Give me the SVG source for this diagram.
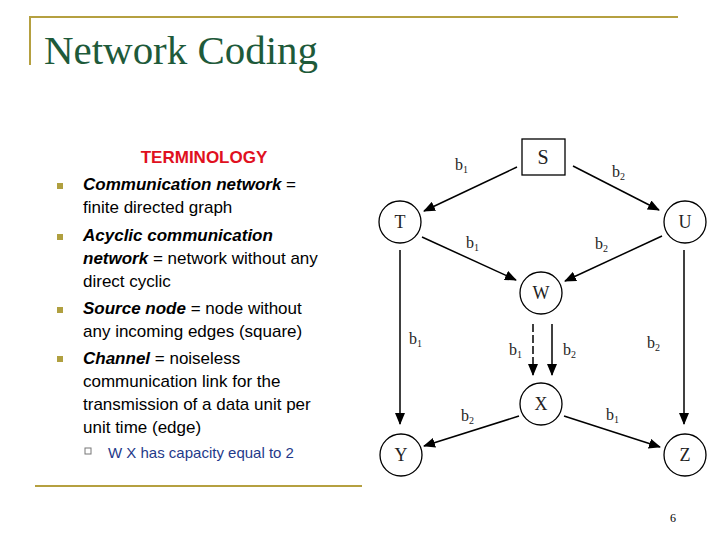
<svg xmlns="http://www.w3.org/2000/svg" width="720" height="540" viewBox="0 0 720 540">
<style>
.t{font-family:"Liberation Sans",Arial,sans-serif;font-size:17px;fill:#000}
.i{font-style:italic;font-weight:bold}
.n{fill:#fff;stroke:#000;stroke-width:1.3}
.nl{font-family:"Liberation Serif","Times New Roman",serif;font-size:18px;text-anchor:middle;fill:#222}
.e{stroke:#000;stroke-width:1.5;fill:none;marker-end:url(#a)}
.b{font-family:"Liberation Serif","Times New Roman",serif;font-size:16px;fill:#222}
.s{font-size:10px}
</style>
<defs><marker id="a" markerWidth="12" markerHeight="10" refX="11" refY="5" orient="auto" markerUnits="userSpaceOnUse"><path d="M0,0L12,5L0,10z" fill="#000"/></marker></defs>
<rect width="720" height="540" fill="#fff"/>
<path d="M30,65V17H678" stroke="#b5a040" stroke-width="2" fill="none"/>
<line x1="35" y1="486" x2="362" y2="486" stroke="#b5a040" stroke-width="2"/>
<text x="44" y="64" font-family="Liberation Serif,serif" font-size="40" fill="#1e5a3a" textLength="274" lengthAdjust="spacingAndGlyphs">Network Coding</text>
<text x="204" y="163" class="t" text-anchor="middle" style="fill:#e01020;font-weight:bold">TERMINOLOGY</text>
<g fill="#b0a040"><rect x="57" y="183" width="6" height="6"/><rect x="57" y="234" width="6" height="6"/><rect x="57" y="307" width="6" height="6"/><rect x="57" y="356" width="6" height="6"/></g>
<rect x="85" y="448" width="6" height="6" fill="none" stroke="#777"/>
<g class="t">
<text x="83" y="190"><tspan class="i">Communication network</tspan> =</text>
<text x="83" y="213">finite directed graph</text>
<text x="83" y="241" class="i">Acyclic communication</text>
<text x="83" y="264"><tspan class="i">network</tspan> = network without any</text>
<text x="83" y="287">direct cyclic</text>
<text x="83" y="314"><tspan class="i">Source node</tspan> = node without</text>
<text x="83" y="337">any incoming edges (square)</text>
<text x="83" y="364"><tspan class="i">Channel</tspan> = noiseless</text>
<text x="83" y="387">communication link for the</text>
<text x="83" y="410">transmission of a data unit per</text>
<text x="83" y="433">unit time  (edge)</text>
<text x="108" y="458" style="font-size:15px;fill:#1f3a8a">W X has capacity equal to 2</text>
</g>
<g id="edges">
<line class="e" x1="517" y1="167" x2="424" y2="211"/>
<line class="e" x1="573" y1="166" x2="659" y2="210"/>
<line class="e" x1="422" y1="237" x2="516" y2="280"/>
<line class="e" x1="662" y1="236" x2="565" y2="281"/>
<line class="e" x1="400" y1="250" x2="400" y2="424"/>
<line class="e" x1="684" y1="250" x2="684" y2="424"/>
<line class="e" x1="533" y1="324" x2="533" y2="375" stroke-dasharray="8,3"/>
<line class="e" x1="552" y1="324" x2="552" y2="375"/>
<line class="e" x1="519" y1="416" x2="424" y2="446"/>
<line class="e" x1="564" y1="416" x2="660" y2="447"/>
</g>
<g class="b">
<text x="455" y="170">b<tspan class="s" dy="3">1</tspan></text>
<text x="612" y="177">b<tspan class="s" dy="3">2</tspan></text>
<text x="466" y="248">b<tspan class="s" dy="3">1</tspan></text>
<text x="595" y="249">b<tspan class="s" dy="3">2</tspan></text>
<text x="409" y="344">b<tspan class="s" dy="3">1</tspan></text>
<text x="647" y="348">b<tspan class="s" dy="3">2</tspan></text>
<text x="509" y="355">b<tspan class="s" dy="3">1</tspan></text>
<text x="563" y="355">b<tspan class="s" dy="3">2</tspan></text>
<text x="461" y="421">b<tspan class="s" dy="3">2</tspan></text>
<text x="606" y="420">b<tspan class="s" dy="3">1</tspan></text>
</g>
<g id="S"><rect class="n" x="522" y="139" width="43" height="36"/><text class="nl" x="543" y="164" style="font-size:20px">S</text></g>
<g id="T"><circle class="n" cx="400" cy="222" r="21"/><text class="nl" x="400" y="228">T</text></g>
<g id="U"><circle class="n" cx="685" cy="222" r="21"/><text class="nl" x="685" y="228">U</text></g>
<g id="W"><circle class="n" cx="541" cy="293" r="21"/><text class="nl" x="541" y="299">W</text></g>
<g id="X"><circle class="n" cx="541" cy="404" r="21"/><text class="nl" x="541" y="410">X</text></g>
<g id="Y"><circle class="n" cx="401" cy="455" r="21"/><text class="nl" x="401" y="461">Y</text></g>
<g id="Z"><circle class="n" cx="685" cy="455" r="21"/><text class="nl" x="685" y="461">Z</text></g>
<text x="673" y="522" font-family="Liberation Serif,serif" font-size="12" text-anchor="middle">6</text>
</svg>
